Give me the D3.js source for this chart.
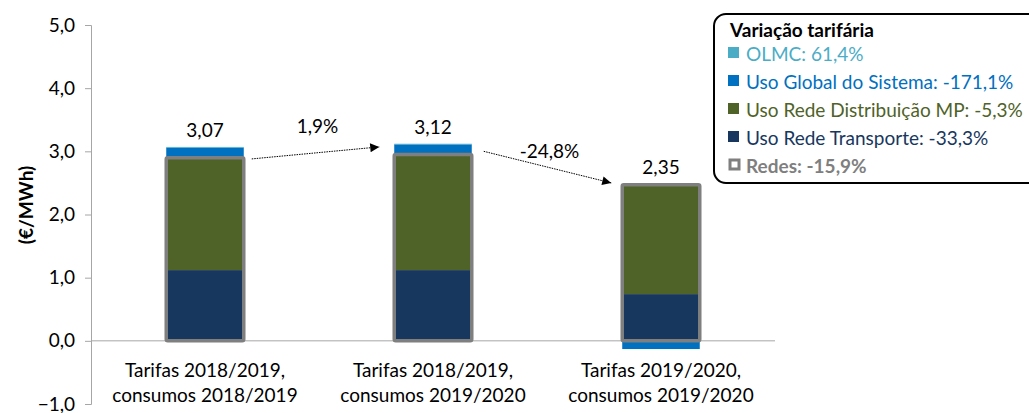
<!DOCTYPE html>
<html>
<head>
<meta charset="utf-8">
<script src="https://cdn.jsdelivr.net/npm/d3@7"></script>
<style>
body { margin: 0; background: #fff; }
text { font-family: Lato, "Open Sans", sans-serif; }
</style>
</head>
<body>
<svg id="chart"></svg>
<script>
var w = 1029;
var h = 413;

// data
var categories = ["Tarifas 2018/2019,|consumos 2018/2019", "Tarifas 2018/2019,|consumos 2019/2020", "Tarifas 2019/2020,|consumos 2019/2020"];
var transporte = [1.12, 1.12, 0.74];
var distribuicao = [1.78, 1.83, 1.73];
var usoGlobal = [0.16, 0.16, -0.13];
var olmc = [0.01, 0.01, 0.01];
var totals = ["3,07", "3,12", "2,35"];
var variations = ["1,9%", "-24,8%"];
var yTicks = [-1, 0, 1, 2, 3, 4, 5];
var legendTitle = "Variação tarifária";
var legendItems = ["OLMC: 61,4%", "Uso Global do Sistema: -171,1%", "Uso Rede Distribuição MP: -5,3%", "Uso Rede Transporte: -33,3%", "Redes: -15,9%"];
var legendColors = ["#4BACC6", "#0070C0", "#4F6228", "#17375E", "#7F7F7F"];

var svg = d3.select("#chart").attr("width", w).attr("height", h);

var x = d3.scaleBand().domain(d3.range(categories.length)).range([91, 775]).paddingInner(0.66).paddingOuter(0.33);
var y = d3.scaleLinear().domain([-1, 5]).range([404, 25]);

// y axis
var yAxis = svg.append("g")
    .attr("transform", "translate(91,0)")
    .call(d3.axisLeft(y).tickValues(yTicks).tickSize(6).tickPadding(10)
        .tickFormat(function(d) { return d3.format(".1f")(d).replace(".", ","); }));
yAxis.select(".domain").attr("stroke", "#a6a6a6").attr("d", "M-6,25.5H0.5V404.5H-6");
yAxis.selectAll(".tick line").attr("stroke", "#a6a6a6");
yAxis.selectAll(".tick text").attr("font-size", 19).attr("fill", "#000");

svg.append("text")
    .attr("transform", "translate(25," + 205 + ") rotate(-90)")
    .attr("text-anchor", "middle")
    .attr("dominant-baseline", "central")
    .attr("font-size", 19)
    .attr("font-weight", "bold")
    .text("(€/MWh)");

// stacks
var bw = x.bandwidth();
categories.forEach(function(c, i) {
    var g = svg.append("g");
    var pos = 0, neg = 0;
    var parts = [
        { v: transporte[i], col: legendColors[3] },
        { v: distribuicao[i], col: legendColors[2] },
        { v: usoGlobal[i], col: legendColors[1] },
        { v: olmc[i], col: legendColors[0] }
    ];
    parts.forEach(function(p) {
        var y0, y1;
        if (p.v >= 0) { y0 = pos; y1 = pos + p.v; pos = y1; }
        else { y0 = neg + p.v; y1 = neg; neg = y0; }
        g.append("rect")
            .attr("x", x(i))
            .attr("width", bw)
            .attr("y", y(y1))
            .attr("height", y(y0) - y(y1))
            .attr("fill", p.col);
    });
});

// zero line
svg.append("line")
    .attr("x1", 91).attr("x2", 775)
    .attr("y1", y(0)).attr("y2", y(0))
    .attr("stroke", "#a6a6a6");

// redes outline
categories.forEach(function(c, i) {
    var redes = transporte[i] + distribuicao[i];
    svg.append("rect")
        .attr("x", x(i))
        .attr("width", bw)
        .attr("y", y(redes))
        .attr("height", y(0) - y(redes))
        .attr("fill", "none")
        .attr("stroke", legendColors[4])
        .attr("stroke-width", 3.5)
        .attr("rx", 1.5);

    var top = Math.max(transporte[i] + distribuicao[i] + Math.max(usoGlobal[i], 0) + olmc[i], redes);
    svg.append("text")
        .attr("x", x(i) + bw / 2)
        .attr("y", y(top) - 10)
        .attr("text-anchor", "middle")
        .attr("font-size", 19)
        .text(totals[i]);

    var lines = c.split("|");
    lines.forEach(function(l, k) {
        svg.append("text")
            .attr("x", x(i) + bw / 2)
            .attr("y", 377 + k * 25)
            .attr("text-anchor", "middle")
            .attr("font-size", 19)
            .text(l);
    });
});

// arrows between bars
svg.append("defs").append("marker")
    .attr("id", "arrow")
    .attr("viewBox", "0 0 10 10")
    .attr("refX", 10).attr("refY", 5)
    .attr("markerWidth", 11).attr("markerHeight", 9)
    .attr("markerUnits", "userSpaceOnUse")
    .attr("orient", "auto")
    .append("path").attr("d", "M0,0L10,5L0,10Z").attr("fill", "#000");

var arrowPts = [
    [x(0) + bw + 8, y(2.88), x(1) - 15, y(3.07), 133, -15],
    [x(1) + bw + 12, y(3.0), x(2) - 11, y(2.5), 158, -21]
];
arrowPts.forEach(function(a, i) {
    svg.append("line")
        .attr("x1", a[0]).attr("y1", a[1])
        .attr("x2", a[2]).attr("y2", a[3])
        .attr("stroke", "#000")
        .attr("stroke-width", 1)
        .attr("stroke-dasharray", "1.5,1")
        .attr("marker-end", "url(#arrow)");
    svg.append("text")
        .attr("x", (a[0] + a[2]) / 2 + 2)
        .attr("y", a[4])
        .attr("text-anchor", "middle")
        .attr("font-size", 19)
        .text(variations[i]);
});

// legend
var lg = svg.append("g");
lg.append("rect")
    .attr("x", 714).attr("y", 14)
    .attr("width", 340).attr("height", 169)
    .attr("rx", 12)
    .attr("fill", "#fff")
    .attr("stroke", "#000")
    .attr("stroke-width", 2);
lg.append("text")
    .attr("x", 730).attr("y", 37)
    .attr("font-size", 19)
    .attr("font-weight", "bold")
    .text(legendTitle);
legendItems.forEach(function(t, i) {
    var ly = 53 + i * 28;
    if (i == 4) {
        lg.append("rect")
            .attr("x", 730).attr("y", ly - 5)
            .attr("width", 9).attr("height", 9)
            .attr("fill", "none")
            .attr("stroke", legendColors[i])
            .attr("stroke-width", 3);
    } else {
        lg.append("rect")
            .attr("x", 728).attr("y", ly - 6)
            .attr("width", 11).attr("height", 11)
            .attr("fill", legendColors[i]);
    }
    lg.append("text")
        .attr("x", 746).attr("y", ly)
        .attr("dominant-baseline", "central")
        .attr("font-size", 19)
        .attr("font-weight", i == 4 ? "bold" : "normal")
        .attr("fill", legendColors[i])
        .text(t);
});
</script>
</body>
</html>
